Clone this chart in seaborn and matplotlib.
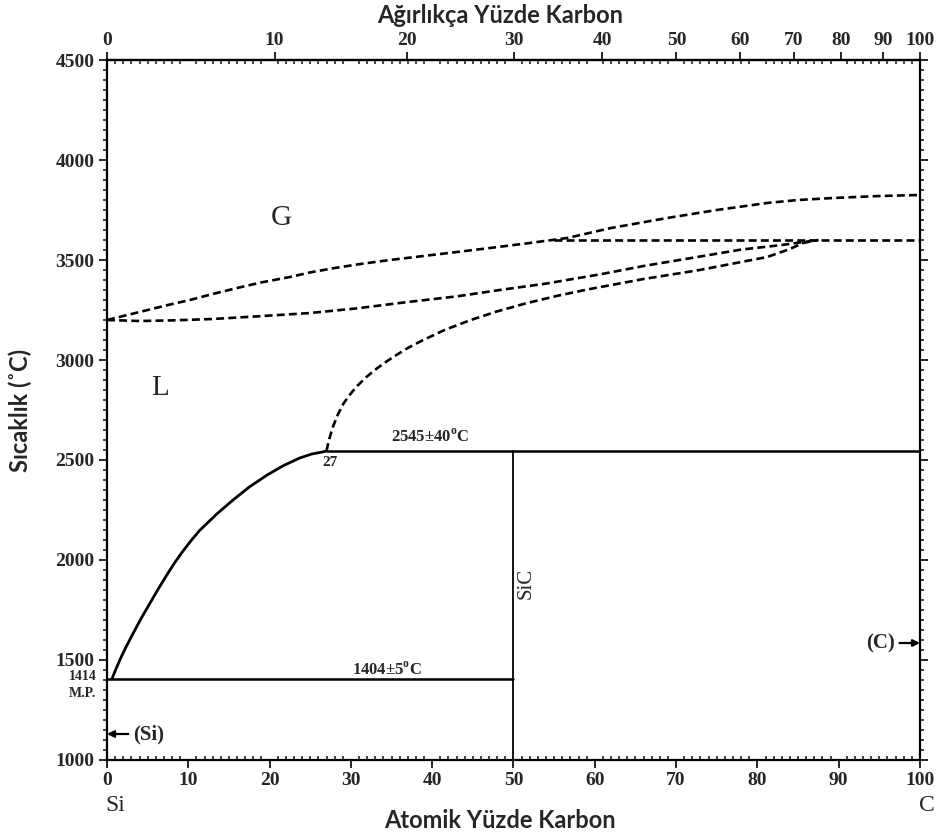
import numpy as np
import pandas as pd
import matplotlib
matplotlib.use("Agg")
import matplotlib.pyplot as plt
from matplotlib.ticker import MultipleLocator, FixedLocator
import seaborn as sns

# --- Si-C phase diagram data (atomic % C, temperature in °C) ---
liquidus_x = [0.6, 1.0, 1.6, 2.3, 3.2, 4.2, 5.3, 6.3, 7.4, 8.3, 9.3, 10.3, 11.4,
              13.5, 15.5, 17.5, 19.7, 21.7, 23.7, 25.2, 26.6, 27.0]
liquidus_t = [1404, 1445, 1502, 1562, 1632, 1708, 1785, 1855, 1928, 1985, 2042, 2095, 2148,
              2230, 2300, 2365, 2425, 2472, 2510, 2530, 2541, 2545]

peritectic_x = [27.0, 27.3, 27.8, 28.4, 29.1, 29.9, 30.7, 31.9, 33.2, 34.4, 35.6, 37.0, 38.5,
                41.4, 44.6, 47.9, 51.5, 55.5, 59.4, 66.0, 72.9, 78.0, 81.2, 84.0, 85.6, 87.5]
peritectic_t = [2545, 2600, 2667, 2728, 2783, 2828, 2867, 2915, 2958, 2993, 3025, 3060, 3092,
                3148, 3198, 3242, 3283, 3322, 3355, 3405, 3450, 3490, 3515, 3555, 3585, 3600]

liq_gas_x = [0.0, 4.0, 8.0, 13.0, 18.4, 25.0, 30.7, 37.0, 43.0, 48.3, 54.0, 60.6, 66.0,
             72.9, 78.0, 83.0, 87.5]
liq_gas_t = [3200, 3195, 3198, 3205, 3218, 3235, 3258, 3290, 3318, 3350, 3382, 3428, 3470,
             3517, 3552, 3575, 3600]

gas_x = [0.0, 2.5, 5.0, 7.5, 10.2, 13.0, 16.0, 19.0, 22.5, 25.0, 28.0, 31.5, 34.8, 41.0,
         47.1, 52.0, 56.6, 62.0, 68.9, 75.0, 81.2, 85.0, 89.3, 95.0, 100.0]
gas_t = [3200, 3225, 3250, 3275, 3300, 3330, 3360, 3388, 3415, 3438, 3460, 3482, 3500, 3530,
         3560, 3585, 3610, 3660, 3710, 3750, 3785, 3800, 3810, 3820, 3825]

gas_iso_x = [55.0, 100.0]
gas_iso_t = [3600, 3600]

high_eut_x = [27.0, 100.0]
high_eut_t = [2545, 2545]
low_eut_x = [0.0, 50.0]
low_eut_t = [1404, 1404]
sic_x = [50.0, 50.0]
sic_t = [1000, 2545]

x_ticks = list(range(0, 101, 10))
y_ticks = list(range(1000, 4501, 500))
wt_ticks = list(range(0, 101, 10))

M_SI, M_C = 28.086, 12.011


def at_to_wt(a):
    a = np.asarray(a, dtype=float)
    return 100.0 * a * M_C / (a * M_C + (100.0 - a) * M_SI)


def wt_to_at(w):
    w = np.asarray(w, dtype=float)
    nc = w / M_C
    nsi = (100.0 - w) / M_SI
    return 100.0 * nc / (nc + nsi)


sns.set_style("white")
plt.rcParams["font.family"] = ["Liberation Serif", "DejaVu Serif"]

SERIF = ["Liberation Serif", "DejaVu Serif"]
SANS = ["Lato", "DejaVu Sans"]

fig = plt.figure(figsize=(9.37, 8.38), dpi=100)
ax = fig.add_axes([0.11419, 0.09308, 0.86767, 0.83532])


def draw(xs, ts, dashed=False, lw=1.9):
    df = pd.DataFrame({"x": xs, "t": ts})
    ls = (0, (3.0, 1.6)) if dashed else "-"
    sns.lineplot(data=df, x="x", y="t", ax=ax, color="black", linewidth=lw,
                 linestyle=ls, estimator=None, sort=False, legend=False,
                 solid_joinstyle="round", dash_joinstyle="round")


draw(liquidus_x, liquidus_t, lw=2.0)
draw(high_eut_x, high_eut_t, lw=1.8)
draw(low_eut_x, low_eut_t, lw=1.8)
draw(sic_x, sic_t, lw=1.3)
draw(peritectic_x, peritectic_t, dashed=True)
draw(liq_gas_x, liq_gas_t, dashed=True)
draw(gas_x, gas_t, dashed=True)
draw(gas_iso_x, gas_iso_t, dashed=True)

ax.set_xlim(0, 100)
ax.set_ylim(1000, 4500)
ax.set_xlabel("")
ax.set_ylabel("")

for s in ax.spines.values():
    s.set_linewidth(1.6)
    s.set_color("black")

ax.xaxis.set_major_locator(FixedLocator(x_ticks))
ax.xaxis.set_minor_locator(MultipleLocator(1))
ax.yaxis.set_major_locator(FixedLocator(y_ticks))
ax.yaxis.set_minor_locator(MultipleLocator(50))

ax.tick_params(axis="x", which="major", direction="out", length=6, width=1.4,
               bottom=True, top=False, labelsize=14, pad=3)
ax.tick_params(axis="x", which="minor", direction="out", length=3, width=1.2,
               bottom=True, top=True)
ax.tick_params(axis="y", which="major", direction="out", length=6, width=1.4,
               left=True, right=True, labelsize=14, pad=3)
ax.tick_params(axis="y", which="minor", direction="out", length=3, width=1.2,
               left=True, right=True)
ax.tick_params(axis="x", which="minor", top=True, direction="in")
for lab in ax.get_xticklabels() + ax.get_yticklabels():
    lab.set_fontfamily(SERIF)
    lab.set_fontweight("bold")

# weight-percent scale along the top
sec = ax.secondary_xaxis("top", functions=(at_to_wt, wt_to_at))
sec.xaxis.set_major_locator(FixedLocator(wt_ticks))
sec.tick_params(direction="out", length=6, width=1.4, labelsize=14, pad=2)
sec.spines["top"].set_linewidth(1.6)
for lab in sec.get_xticklabels():
    lab.set_fontfamily(SERIF)
    lab.set_fontweight("bold")

# region and line annotations
ax.text(21.5, 3710, "G", fontsize=21, family=SERIF, ha="center", va="center")
ax.text(6.5, 2860, "L", fontsize=21, family=SERIF, ha="center", va="center")
ax.text(27.4, 2488, "27", fontsize=11, family=SERIF, fontweight="bold", ha="center", va="center")
ax.text(39.7, 2615, r"2545±40$^\mathregular{o}$C", fontsize=12, family=SERIF,
        fontweight="bold", ha="center", va="center")
ax.text(34.4, 1448, r"1404±5$^\mathregular{o}$C", fontsize=12, family=SERIF,
        fontweight="bold", ha="center", va="center")
ax.text(51.6, 1885, "SiC", fontsize=15, family=SERIF, rotation=90,
        ha="center", va="center")
ax.text(-1.3, 1418, "1414", fontsize=10, family=SERIF, fontweight="bold",
        ha="right", va="center", clip_on=False)
ax.text(-1.3, 1330, "M.P.", fontsize=10, family=SERIF, fontweight="bold",
        ha="right", va="center", clip_on=False)

ax.annotate("(Si)", xy=(0, 1130), xytext=(3.2, 1130), fontsize=15, family=SERIF,
            fontweight="bold", ha="left", va="center",
            arrowprops=dict(arrowstyle="-|>", color="black", lw=1.6,
                            mutation_scale=10, shrinkA=1, shrinkB=0))
ax.annotate("(C)", xy=(100, 1585), xytext=(96.9, 1585), fontsize=15, family=SERIF,
            fontweight="bold", ha="right", va="center",
            arrowprops=dict(arrowstyle="-|>", color="black", lw=1.6,
                            mutation_scale=10, shrinkA=1, shrinkB=0))

ax.text(1.0, 770, "Si", fontsize=17, family=SERIF, ha="center", va="center", clip_on=False)
ax.text(100.9, 770, "C", fontsize=17, family=SERIF, ha="center", va="center", clip_on=False)

fig.text(0.5335, 0.021, "Atomik Yüzde Karbon", fontsize=17, family=SANS,
         fontweight="bold", ha="center", va="center")
fig.text(0.5335, 0.982, "Ağırlıkça Yüzde Karbon", fontsize=17, family=SANS,
         fontweight="bold", ha="center", va="center")
fig.text(0.022, 0.51, "Sıcaklık (˚C)", fontsize=17, family=SANS,
         fontweight="bold", ha="center", va="center", rotation=90)

fig.savefig("out.png", dpi=100, facecolor="white")
